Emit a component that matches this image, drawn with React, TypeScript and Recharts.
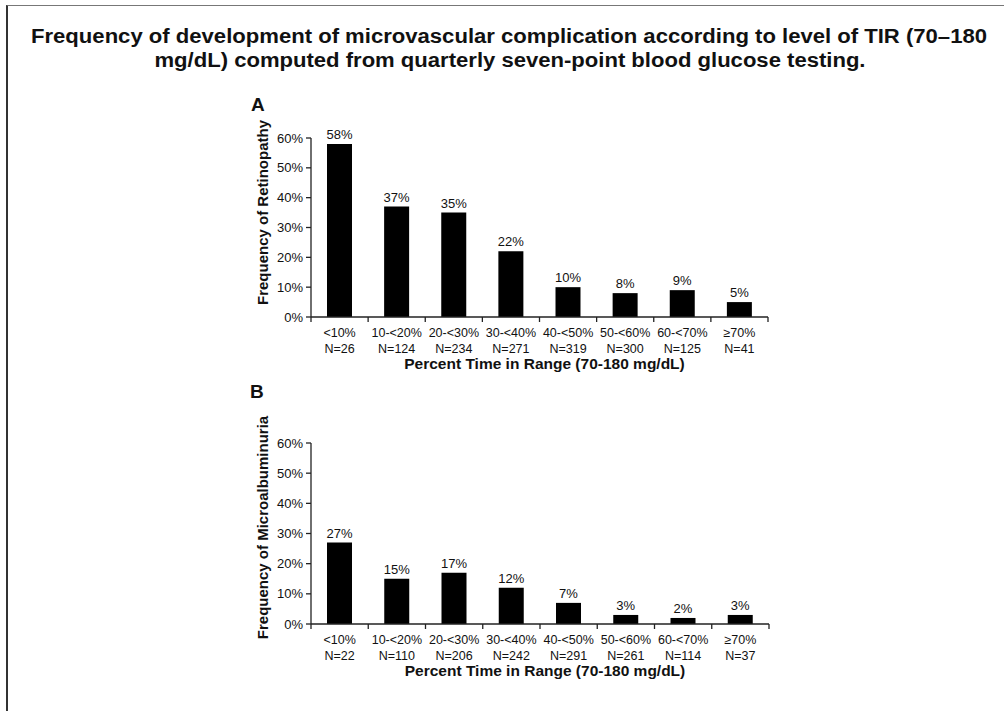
import React from 'react';
import { BarChart, Bar, XAxis, YAxis, LabelList } from 'recharts';

const categories = ['<10%', '10-<20%', '20-<30%', '30-<40%', '40-<50%', '50-<60%', '60-<70%', '≥70%'];
const retinopathy = [58, 37, 35, 22, 10, 8, 9, 5];
const retinopathyN = [26, 124, 234, 271, 319, 300, 125, 41];
const microalbuminuria = [27, 15, 17, 12, 7, 3, 2, 3];
const microalbuminuriaN = [22, 110, 206, 242, 291, 261, 114, 37];
const yTicks = [0, 10, 20, 30, 40, 50, 60];

const FONT = '"Liberation Sans", Arial, Helvetica, sans-serif';
const INK = '#111';
const AXIS = '#222';

// category labels with N below, plus tick marks at the category boundaries
const CategoryTick = ({ x, y, payload, index, counts }: any) => {
  const half = payload.offset || 0;
  const last = index === categories.length - 1;
  return (
    <g transform={`translate(${x},${y})`}>
      <line x1={-half} x2={-half} y1={0} y2={5} stroke={AXIS} strokeWidth={1.3} />
      {last && <line x1={half} x2={half} y1={0} y2={5} stroke={AXIS} strokeWidth={1.3} />}
      <text textAnchor="middle" fontSize={12.5} fill={INK} fontFamily={FONT}>
        <tspan x={0} dy={20}>{payload.value}</tspan>
        <tspan x={0} dy={16}>N={counts[index]}</tspan>
      </text>
    </g>
  );
};

const yTitle = (text: string, shift: number) => (props: any) => {
  const vb = props.viewBox || {};
  const cx = vb.x + vb.width - 49;
  const cy = vb.y + vb.height / 2 + shift;
  return (
    <text
      x={cx}
      y={cy}
      transform={`rotate(-90 ${cx} ${cy})`}
      textAnchor="middle"
      dominantBaseline="central"
      fontSize={15}
      fontWeight="bold"
      fill={INK}
      fontFamily={FONT}
    >
      {text}
    </text>
  );
};

const xTitle = (props: any) => {
  const vb = props.viewBox || {};
  const cx = vb.x + vb.width / 2 + 5;
  const cy = vb.y + 52;
  return (
    <text x={cx} y={cy} textAnchor="middle" fontSize={15.5} fontWeight="bold" fill={INK} fontFamily={FONT}>
      Percent Time in Range (70-180 mg/dL)
    </text>
  );
};

interface PanelProps {
  values: number[];
  counts: number[];
  yLabel: string;
  yShift: number;
  margin: { top: number; right: number; bottom: number; left: number };
}

const Panel = ({ values, counts, yLabel, yShift, margin }: PanelProps) => {
  const data = categories.map((c, i) => ({ name: c, value: values[i] }));
  return (
    <BarChart width={560} height={300} data={data} margin={margin} style={{ fontFamily: FONT }}>
      <XAxis
        dataKey="name"
        type="category"
        height={60}
        axisLine={{ stroke: AXIS, strokeWidth: 1.3 }}
        tickLine={false}
        tickSize={0}
        tickMargin={0}
        interval={0}
        tick={<CategoryTick counts={counts} />}
        label={xTitle}
      />
      <YAxis
        type="number"
        domain={[0, 60]}
        ticks={yTicks}
        width={81}
        tickSize={5}
        tickMargin={3}
        tickFormatter={(v: number) => `${v}%`}
        tick={{ fontSize: 13, fill: INK, fontFamily: FONT }}
        axisLine={{ stroke: AXIS, strokeWidth: 1.3 }}
        tickLine={{ stroke: AXIS, strokeWidth: 1.3 }}
        label={yTitle(yLabel, yShift)}
      />
      <Bar dataKey="value" fill="#000" barSize={25} isAnimationActive={false}>
        <LabelList
          dataKey="value"
          position="top"
          offset={5}
          formatter={(v: any) => `${v}%`}
          style={{ fontSize: 13, fill: INK, fontFamily: FONT }}
        />
      </Bar>
    </BarChart>
  );
};

export default function App() {
  return (
    <div style={{ position: 'absolute', left: 0, top: 0, width: 1004, height: 711, background: '#fff', fontFamily: FONT }}>
      <div
        style={{
          position: 'absolute',
          left: 6,
          top: 5,
          right: 0,
          bottom: 0,
          borderTop: '1px solid #777',
          borderLeft: '2px solid #333',
        }}
      />
      <svg width={1004} height={711} style={{ position: 'absolute', left: 0, top: 0 }}>
        <text
          x={509}
          y={43}
          textAnchor="middle"
          fontSize={20}
          fontWeight="bold"
          fill={INK}
          fontFamily={FONT}
          textLength={956}
          lengthAdjust="spacingAndGlyphs"
        >
          Frequency of development of microvascular complication according to level of TIR (70–180
        </text>
        <text
          x={510}
          y={67}
          textAnchor="middle"
          fontSize={20}
          fontWeight="bold"
          fill={INK}
          fontFamily={FONT}
          textLength={711}
          lengthAdjust="spacingAndGlyphs"
        >
          mg/dL) computed from quarterly seven-point blood glucose testing.
        </text>
        <text x={251} y={111} fontSize={19} fontWeight="bold" fill={INK} fontFamily={FONT}>A</text>
        <text x={250} y={398} fontSize={19} fontWeight="bold" fill={INK} fontFamily={FONT}>B</text>
      </svg>
      <div style={{ position: 'absolute', left: 230, top: 90 }}>
        <Panel
          values={retinopathy}
          counts={retinopathyN}
          yLabel="Frequency of Retinopathy"
          yShift={-15}
          margin={{ top: 48, right: 22, bottom: 13, left: 0 }}
        />
      </div>
      <div style={{ position: 'absolute', left: 230, top: 390 }}>
        <Panel
          values={microalbuminuria}
          counts={microalbuminuriaN}
          yLabel="Frequency of Microalbuminuria"
          yShift={-6}
          margin={{ top: 53, right: 21, bottom: 6, left: 0 }}
        />
      </div>
    </div>
  );
}
